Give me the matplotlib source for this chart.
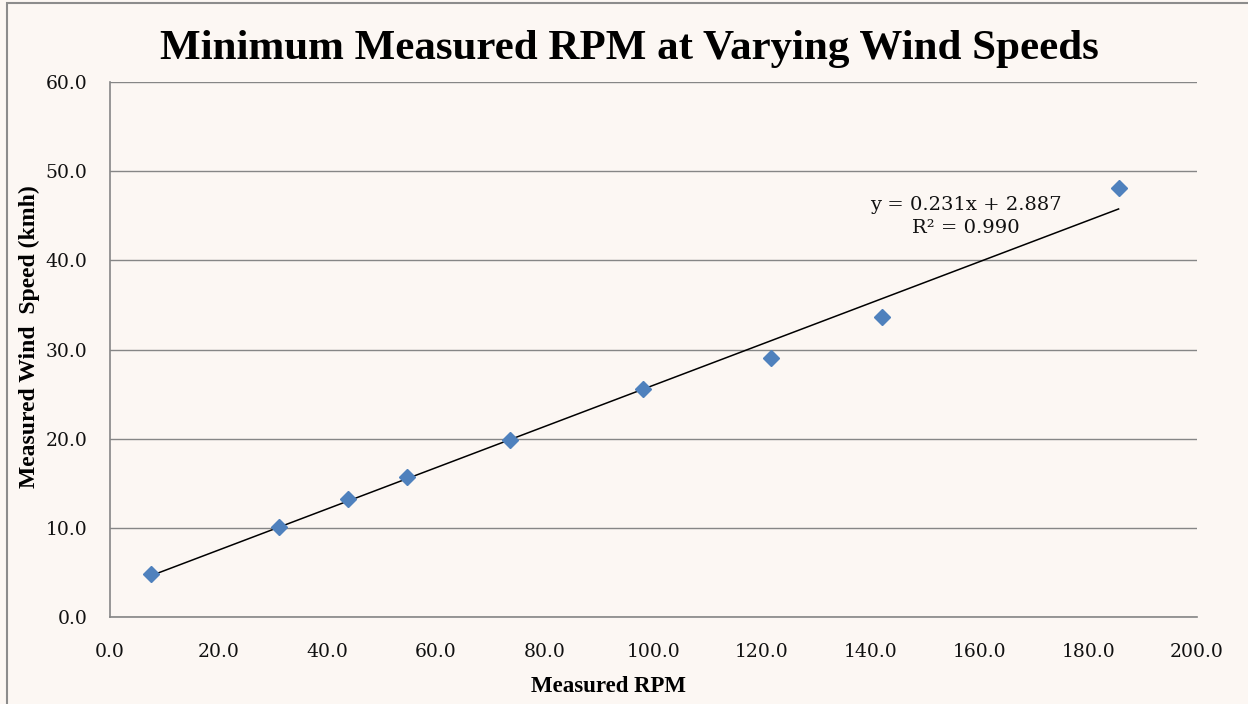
import numpy as np
import matplotlib
matplotlib.use("Agg")
import matplotlib.pyplot as plt

rpm = [7.5, 31.1, 43.8, 54.6, 73.6, 98.1, 121.6, 142.0, 185.6]
wind = [4.8, 10.1, 13.2, 15.7, 19.8, 25.6, 29.0, 33.7, 48.1]
slope, intercept = 0.231, 2.887
x_ticks = [0, 20, 40, 60, 80, 100, 120, 140, 160, 180, 200]
y_ticks = [0, 10, 20, 30, 40, 50, 60]

bg = "#FCF7F3"
fig = plt.figure(figsize=(12.48, 7.04), dpi=100, facecolor=bg)
ax = fig.add_axes([0.0881, 0.1236, 0.8709, 0.7599], facecolor=bg)

serif = ["Liberation Serif", "DejaVu Serif"]
tickfont = ["DejaVu Serif"]

ax.set_xlim(0, 200)
ax.set_ylim(0, 60)
ax.set_xticks(x_ticks)
ax.set_yticks(y_ticks)
ax.set_xticklabels([f"{v:.1f}" for v in x_ticks], fontfamily=tickfont, fontsize=13.5, color="#111111")
ax.set_yticklabels([f"{v:.1f}" for v in y_ticks], fontfamily=tickfont, fontsize=13.5, color="#111111")
ax.tick_params(length=0)
ax.xaxis.set_tick_params(pad=19)
ax.yaxis.set_tick_params(pad=16)

ax.grid(axis="y", color="#868686", lw=1)
ax.set_axisbelow(True)
for s in ["top", "right"]:
    ax.spines[s].set_visible(False)
for s in ["left", "bottom"]:
    ax.spines[s].set_color("#868686")
    ax.spines[s].set_linewidth(1.2)

xs = np.array([min(rpm), max(rpm)])
ax.plot(xs, slope * xs + intercept, color="black", lw=1.1, zorder=2)
ax.plot(rpm, wind, linestyle="none", marker="D", markersize=8.5,
        color="#4F81BD", markeredgecolor="#4F81BD", zorder=3)

ax.text(157.5, 44.9, f"y = {slope:.3f}x + {intercept:.3f}\nR² = 0.990",
        ha="center", va="center", fontfamily=tickfont, fontsize=14, linespacing=1.35,
        color="#111111")

ax.set_xlabel("Measured RPM", fontfamily=serif, fontsize=16.5, fontweight="bold")
ax.xaxis.set_label_coords(0.459, -0.110)
ax.set_ylabel("Measured Wind  Speed (kmh)", fontfamily=serif, fontsize=17, fontweight="bold")
ax.yaxis.set_label_coords(-0.064, 0.525)

fig.text(0.504, 0.931, "Minimum Measured RPM at Varying Wind Speeds", fontfamily=serif,
         fontsize=31, fontweight="bold", ha="center", va="center")

# outer chart border
fig.patches.append(plt.Rectangle((0.0056, -0.05), 1.1, 1.0457, transform=fig.transFigure,
                                 fill=False, edgecolor="#8C8C8C", lw=1.5))

fig.savefig("out.png", dpi=100, facecolor=bg)
